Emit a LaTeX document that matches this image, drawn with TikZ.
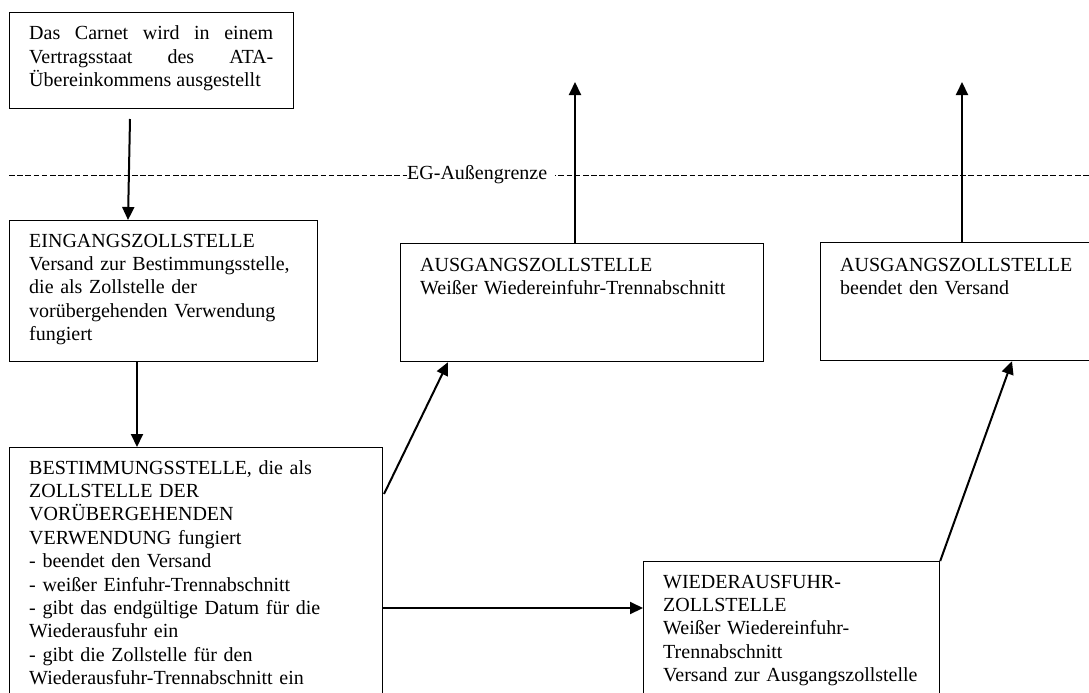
\documentclass[tikz,border=0pt]{standalone}
\usepackage{fontspec}
\setmainfont{Liberation Serif}
\usetikzlibrary{arrows.meta,calc}
\begin{document}
\begin{tikzpicture}[x=1pt,y=-1pt,
  box/.style={draw,line width=1.2pt,rectangle,inner sep=0pt,anchor=north west},
  txt/.style={anchor=base west,inner sep=0pt,align=left,
    font=\fontsize{20}{23.4}\selectfont},
  conn/.style={line width=2pt,-{Triangle[length=13pt,width=12pt]}},
  border/.style={line width=0.9pt,dash pattern=on 5.5pt off 2.7pt}]
\useasboundingbox (0,0) rectangle (1089,693);
\clip (0,0) rectangle (1089,693);

% EU external border
\coordinate (gl) at (9,175);
\coordinate (gr) at (1089,175);
\draw[border] (gl) -- (gr);
\node[fill=white,inner sep=0pt,anchor=west,minimum height=14pt,
  font=\fontsize{20}{23.4}\selectfont] (grenze) at (407,175)
  {EG-Außengrenze\rule{0pt}{1pt}\kern8pt};

% boxes
\node[box,minimum width=284pt,minimum height=96pt] (b1) at (9,12) {};
\node[box,minimum width=308pt,minimum height=141pt] (b2) at (9,220) {};
\node[box,minimum width=373pt,minimum height=300pt] (b3) at (9,447) {};
\node[box,minimum width=363pt,minimum height=118pt] (b4) at (400,243) {};
\node[box,minimum width=300pt,minimum height=118pt] (b5) at (820,242) {};
\node[box,minimum width=296pt,minimum height=200pt] (b6) at (643,561) {};

% box texts
\node[txt,align=justify,text width=244pt] (t1) at (29,40)
  {Das Carnet wird in einem\linebreak Vertragsstaat des ATA-\linebreak Übereinkommens ausgestellt};
\node[txt,text width=285pt] (t2) at (29,247)
  {EINGANGSZOLLSTELLE\\Versand zur Bestimmungsstelle,\\die als Zollstelle der\\vorübergehenden Verwendung\\fungiert};
\node[txt,text width=345pt] (t3) at (29,474)
  {BESTIMMUNGSSTELLE, die als\\ZOLLSTELLE DER\\VORÜBERGEHENDEN\\VERWENDUNG fungiert\\- beendet den Versand\\- weißer Einfuhr-Trennabschnitt\\- gibt das endgültige Datum für die\\Wiederausfuhr ein\\- gibt die Zollstelle für den\\Wiederausfuhr-Trennabschnitt ein};
\node[txt,text width=340pt] (t4) at (420,271)
  {AUSGANGSZOLLSTELLE\\Weißer Wiedereinfuhr-Trennabschnitt};
\node[txt,text width=260pt] (t5) at (840,271)
  {AUSGANGSZOLLSTELLE\\beendet den Versand};
\node[txt,text width=270pt] (t6) at (663,588)
  {WIEDERAUSFUHR-\\ZOLLSTELLE\\Weißer Wiedereinfuhr-\\Trennabschnitt\\Versand zur Ausgangszollstelle};

% connector end points
\coordinate (a1s) at (130,119);
\coordinate (x128) at (128,0);
\coordinate (x137) at (137,0);
\coordinate (a3s) at (384,494);
\coordinate (a7s) at (383,608);
\coordinate (up1) at (575,82);
\coordinate (up2) at (962,82);

% connectors
\draw[conn] (a1s) -- (b2.north -| x128);
\draw[conn] (b2.south -| x137) -- (b3.north -| x137);
\draw[conn] (a3s) -- ($(b4.south west)+(48,0)$);
\draw[conn] (b4.north -| up1) -- (up1);
\draw[conn] (b5.north -| up2) -- (up2);
\draw[conn] (b6.north east) -- ($(b5.south west)+(192,0)$);
\draw[conn] (a7s) -- (b6.west |- a7s);
\end{tikzpicture}
\end{document}
